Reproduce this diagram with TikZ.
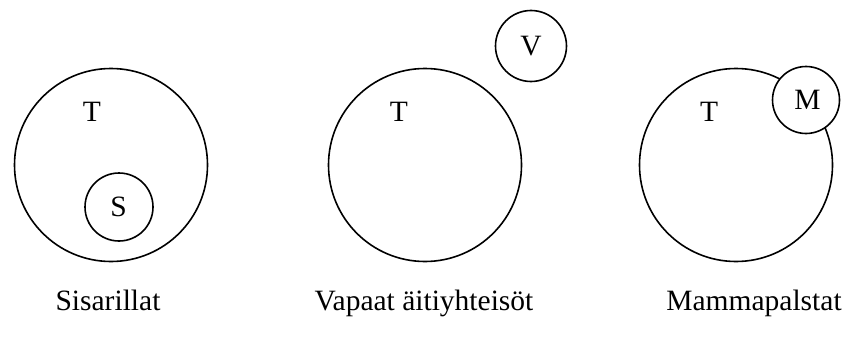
\documentclass[tikz,border=0pt]{standalone}
\usepackage{fontspec}
\setmainfont{Liberation Serif}
\begin{document}
\begin{tikzpicture}[x=1pt,y=-1pt,
  ring/.style={draw=black,line width=1.6pt,circle,inner sep=0pt,fill=white},
  big/.style={ring,minimum size=193pt},
  small/.style={ring,minimum size=68pt},
  lbl/.style={inner sep=0pt,anchor=base,font=\fontsize{29.5}{34}\selectfont}]
\useasboundingbox (0,0) rectangle (850,345);
% group 1
\node[big] (t1) at (111,165) {};
\node[small] (s) at (119,207) {};
\node[lbl] (tl1) at (92,121.8) {T};
\node[lbl] (sl) at (118.5,216.8) {S};
% group 2
\node[big] (t2) at (425,165) {};
\node[small,minimum size=71pt] (v) at (531,46) {};
\node[lbl] (tl2) at (399,121.8) {T};
\node[lbl] (vl) at (531,55.8) {V};
% group 3
\node[big] (t3) at (736,165) {};
\node[small,minimum size=67pt] (m) at (806,100) {};
\node[lbl] (tl3) at (709,121.8) {T};
\node[lbl] (ml) at (807.5,109.8) {M};
% captions
\node[lbl] (c1) at (108,310) {Sisarillat};
\node[lbl] (c2) at (424,310) {Vapaat äitiyhteisöt};
\node[lbl] (c3) at (754,310) {Mammapalstat};
\end{tikzpicture}
\end{document}
